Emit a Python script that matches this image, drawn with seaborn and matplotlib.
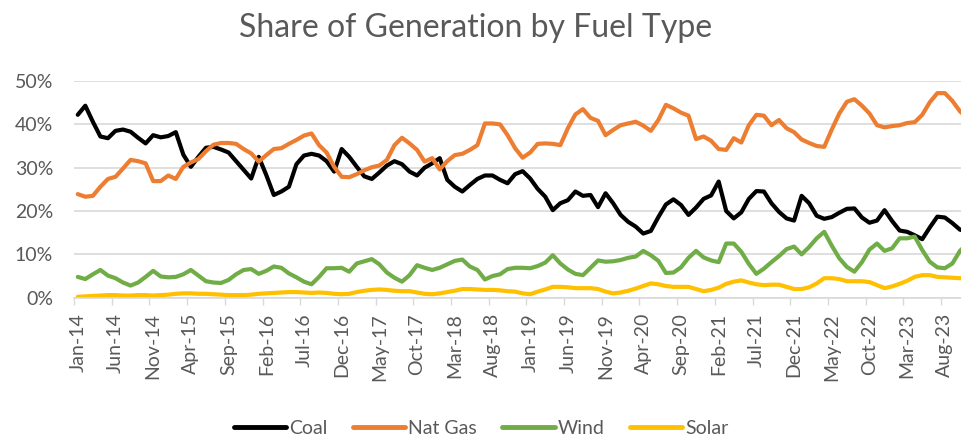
import numpy as np
import pandas as pd
import matplotlib
matplotlib.use("Agg")
import matplotlib.pyplot as plt
from matplotlib.ticker import FixedLocator, PercentFormatter
import seaborn as sns


OUTPUT_PATH = "out.png"

# Monthly data, Jan-14 .. Nov-23 (share of generation, %)
MONTHS = pd.date_range("2014-01-01", "2023-11-01", freq="MS")

FUELS = ["Coal", "Nat Gas", "Wind", "Solar"]
COLORS = ["#000000", "#ED7D31", "#70AD47", "#FFC000"]

COAL = [
    42.2, 44.3, 40.6, 37.2, 36.8, 38.5, 38.8, 38.3, 36.9, 35.6,
    37.5, 37.0, 37.3, 38.2, 33.0, 30.2, 32.5, 34.6, 34.8, 34.2,
    33.5, 31.5, 29.5, 27.5, 32.5, 28.3, 23.7, 24.5, 25.6, 30.8,
    32.8, 33.2, 32.8, 31.5, 29.1, 34.3, 32.5, 30.2, 28.0, 27.4,
    28.9, 30.5, 31.5, 30.8, 29.1, 28.2, 30.0, 31.0, 32.2, 27.2,
    25.6, 24.5, 26.0, 27.4, 28.2, 28.2, 27.2, 26.4, 28.5, 29.2,
    27.5, 25.1, 23.3, 20.2, 21.8, 22.5, 24.5, 23.5, 23.7, 20.9,
    24.1, 21.8, 19.1, 17.5, 16.4, 14.8, 15.4, 18.6, 21.5, 22.7,
    21.4, 19.1, 20.8, 22.8, 23.6, 26.8, 20.0, 18.3, 19.7, 22.8,
    24.6, 24.5, 21.8, 19.8, 18.3, 17.8, 23.5, 21.8, 18.9, 18.2,
    18.6, 19.6, 20.5, 20.6, 18.5, 17.3, 17.8, 20.2, 17.7, 15.5,
    15.2, 14.4, 13.5, 16.2, 18.7, 18.5, 17.2, 15.7, 15.2,
]

NAT_GAS = [
    23.9, 23.3, 23.5, 25.6, 27.4, 27.9, 29.8, 31.8, 31.5, 31.0,
    26.9, 26.9, 28.2, 27.4, 30.2, 31.2, 32.0, 33.8, 35.3, 35.7,
    35.7, 35.5, 34.3, 33.3, 31.4, 32.9, 34.3, 34.5, 35.5, 36.4,
    37.4, 37.9, 35.2, 33.5, 30.2, 27.9, 27.8, 28.5, 29.4, 30.1,
    30.5, 31.8, 35.2, 36.9, 35.6, 34.1, 31.4, 32.2, 29.6, 31.5,
    32.9, 33.2, 34.1, 35.2, 40.2, 40.2, 40.0, 37.5, 34.5, 32.3,
    33.5, 35.5, 35.6, 35.5, 35.2, 39.1, 42.3, 43.5, 41.5, 40.8,
    37.5, 38.7, 39.8, 40.2, 40.6, 39.7, 38.5, 41.0, 44.5, 43.7,
    42.7, 42.0, 36.6, 37.2, 36.2, 34.3, 34.1, 36.8, 35.8, 39.8,
    42.2, 42.0, 39.8, 41.0, 39.1, 38.2, 36.5, 35.7, 35.0, 34.8,
    38.8, 42.5, 45.2, 45.8, 44.3, 42.5, 39.8, 39.3, 39.6, 39.8,
    40.3, 40.5, 42.2, 45.1, 47.2, 47.2, 45.4, 43.0, 41.5,
]

WIND = [
    4.8, 4.3, 5.4, 6.4, 5.1, 4.5, 3.5, 2.8, 3.5, 4.8,
    6.2, 4.9, 4.7, 4.8, 5.4, 6.4, 5.1, 3.8, 3.5, 3.4,
    4.1, 5.4, 6.4, 6.6, 5.5, 6.2, 7.2, 6.9, 5.6, 4.7,
    3.7, 3.1, 4.8, 6.8, 6.8, 6.9, 6.0, 7.9, 8.4, 8.9,
    7.7, 5.8, 4.6, 3.7, 5.2, 7.5, 6.9, 6.4, 6.9, 7.7,
    8.5, 8.8, 7.2, 6.4, 4.2, 5.0, 5.4, 6.6, 6.9, 6.9,
    6.8, 7.3, 8.1, 9.8, 7.9, 6.5, 5.5, 5.2, 6.9, 8.6,
    8.3, 8.4, 8.7, 9.2, 9.5, 10.8, 9.8, 8.5, 5.7, 5.8,
    7.0, 9.2, 10.8, 9.3, 8.6, 8.2, 12.5, 12.5, 10.6, 7.8,
    5.5, 6.7, 8.2, 9.6, 11.2, 11.8, 10.0, 11.7, 13.7, 15.2,
    12.0, 9.1, 7.1, 6.0, 8.2, 11.1, 12.5, 10.8, 11.4, 13.7,
    13.7, 14.1, 11.0, 8.3, 7.0, 6.8, 7.9, 10.8, 12.5,
]

SOLAR = [
    0.2, 0.3, 0.4, 0.5, 0.6, 0.6, 0.5, 0.5, 0.6, 0.6,
    0.5, 0.6, 0.7, 0.9, 1.0, 1.0, 0.9, 0.9, 0.8, 0.7,
    0.6, 0.6, 0.6, 0.7, 0.9, 1.0, 1.1, 1.2, 1.3, 1.3,
    1.2, 1.1, 1.2, 1.1, 0.9, 0.8, 0.9, 1.3, 1.6, 1.8,
    1.9, 1.8, 1.6, 1.5, 1.5, 1.2, 0.9, 0.8, 1.0, 1.3,
    1.6, 2.0, 2.0, 1.9, 1.8, 1.8, 1.7, 1.5, 1.4, 1.0,
    0.8, 1.4, 1.9, 2.5, 2.5, 2.4, 2.2, 2.2, 2.2, 2.0,
    1.4, 1.0, 1.2, 1.6, 2.1, 2.7, 3.3, 3.1, 2.7, 2.5,
    2.5, 2.5, 2.0, 1.5, 1.8, 2.3, 3.2, 3.7, 4.0, 3.5,
    3.1, 2.9, 3.0, 3.0, 2.5, 2.0, 2.0, 2.4, 3.3, 4.5,
    4.5, 4.3, 3.8, 3.8, 3.8, 3.6, 2.9, 2.2, 2.6, 3.2,
    3.9, 4.8, 5.2, 5.2, 4.8, 4.7, 4.6, 4.5, 4.4,
]

TEXT_COLOR = "#595959"
GRID_COLOR = "#D9D9D9"


def plot_generation_share():

    df = pd.DataFrame(
        {"Coal": COAL, "Nat Gas": NAT_GAS, "Wind": WIND, "Solar": SOLAR}
    )
    df["pos"] = np.arange(len(MONTHS))
    long_df = df.melt(id_vars="pos", var_name="fuel", value_name="share")

    sns.set_theme(style="white")
    plt.rcParams["font.family"] = ["Lato", "DejaVu Sans"]
    plt.rcParams["lines.solid_joinstyle"] = "round"
    plt.rcParams["lines.solid_capstyle"] = "round"

    fig = plt.figure(figsize=(9.62, 4.38), dpi=100)
    W, H = 962, 438
    left, right, top, bottom = 74, 962, 81, 297.7
    ax = fig.add_axes([
        left / W, 1 - bottom / H, (right - left) / W, (bottom - top) / H
    ])

    sns.lineplot(
        data=long_df,
        x="pos",
        y="share",
        hue="fuel",
        hue_order=FUELS,
        palette=COLORS,
        linewidth=3,
        ax=ax,
    )

    # Axes ranges: categories centred between tick marks
    ax.set_xlim(-0.5, -0.5 + (right - left) / 7.54)
    ax.set_ylim(0, 50)

    # x ticks: labels every 5 months, tick marks on category boundaries
    label_pos = np.arange(0, len(MONTHS), 5)
    ax.set_xticks(label_pos)
    ax.set_xticklabels(
        [MONTHS[p].strftime("%b-%y") for p in label_pos], rotation=90
    )
    ax.xaxis.set_minor_locator(FixedLocator(label_pos - 0.5))
    ax.tick_params(axis="x", which="major", length=0, pad=11,
                   labelsize=14, labelcolor=TEXT_COLOR)
    ax.tick_params(axis="x", which="minor", length=5, width=1,
                   color=GRID_COLOR, bottom=True)

    ax.set_yticks(np.arange(0, 51, 10))
    ax.yaxis.set_major_formatter(PercentFormatter(xmax=100, decimals=0))
    ax.tick_params(axis="y", length=0, pad=15,
                   labelsize=14, labelcolor=TEXT_COLOR)

    ax.grid(axis="y", color=GRID_COLOR, linewidth=1.2)
    ax.grid(axis="x", visible=False)
    ax.set_axisbelow(True)
    for side in ["left", "right", "top"]:
        ax.spines[side].set_visible(False)
    ax.spines["bottom"].set_color(GRID_COLOR)
    ax.spines["bottom"].set_linewidth(1.2)

    ax.set_xlabel("")
    ax.set_ylabel("")

    handles, labels = ax.get_legend_handles_labels()
    ax.get_legend().remove()
    leg = fig.legend(
        handles, labels,
        loc="center",
        bbox_to_anchor=(481 / W, 1 - 428 / H),
        ncol=4,
        frameon=False,
        fontsize=14,
        handlelength=2.7,
        handletextpad=0.15,
        columnspacing=1.3,
    )
    for text in leg.get_texts():
        text.set_color(TEXT_COLOR)
    for line in leg.get_lines():
        line.set_linewidth(3.5)

    fig.text(
        476 / W, 1 - 28 / H,
        "Share of Generation by Fuel Type",
        ha="center", va="center",
        fontsize=23, color=TEXT_COLOR,
    )

    fig.savefig(OUTPUT_PATH, dpi=100)


if __name__ == "__main__":

    plot_generation_share()
